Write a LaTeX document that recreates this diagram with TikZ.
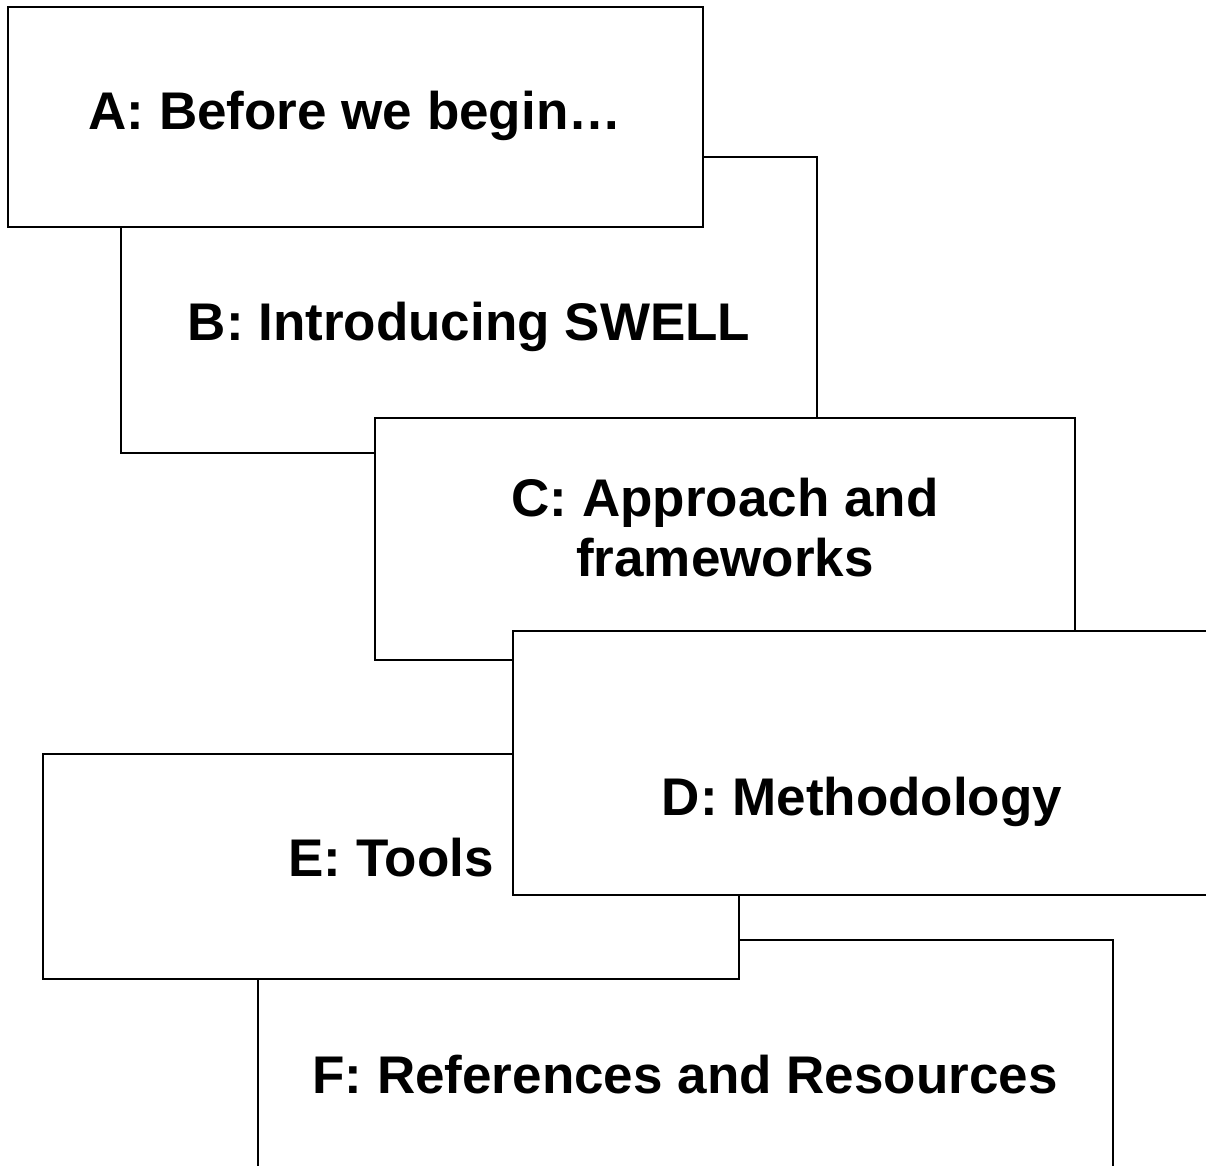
\documentclass[tikz,border=0pt]{standalone}
\usepackage{fontspec}
\setmainfont{Liberation Sans}
\usetikzlibrary{positioning}

\begin{document}
\begin{tikzpicture}[
  x=0.5pt, y=-0.5pt,
  panel/.style={rectangle, draw=black, line width=1pt, fill=white,
                anchor=north west, inner sep=0pt, outer sep=0pt},
  title/.style={anchor=base, inner sep=0pt, align=center,
                font=\fontsize{26.5}{30}\selectfont\bfseries}
]
  \useasboundingbox (0,0) rectangle (1206,1166);

  % panels, back to front
  \foreach \name/\px/\py/\w/\h in {boxB/121/157/348/148, boxA/8/7/347.5/110,
      boxC/375/418/350/121, boxF/258/940/427.5/125, boxE/43/754/348/112.5,
      boxD/513/631/349.5/132}
    \node[panel, minimum width=\w pt, minimum height=\h pt] (\name) at (\px,\py) {};

  % titles
  \node[title] (titleA) at (355,130)  {A: Before we begin…};
  \node[title] (titleB) at (469,341)  {B: Introducing SWELL};
  \node[title] (titleC) at (725,576)  {C: Approach and\\frameworks};
  \node[title] (titleD) at (862,815)  {D: Methodology};
  \node[title] (titleE) at (391,876)  {E: Tools};
  \node[title] (titleF) at (685,1093) {F: References and Resources};
\end{tikzpicture}
\end{document}
